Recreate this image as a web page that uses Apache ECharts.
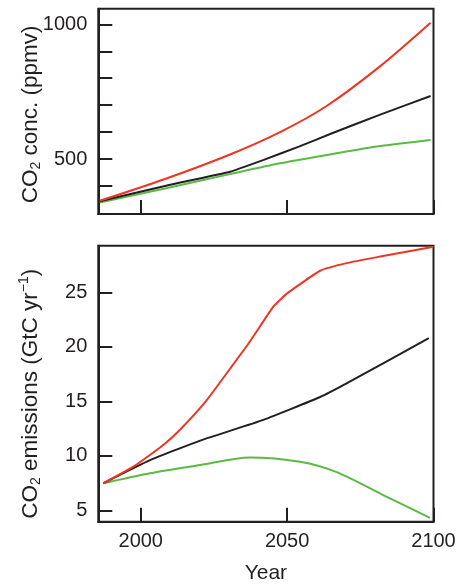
<!DOCTYPE html>
<html>
<head>
<meta charset="utf-8">
<script src="https://cdn.jsdelivr.net/npm/echarts@6/dist/echarts.min.js"></script>
<style>
html,body{margin:0;padding:0;background:#fff;}
#chart{width:461px;height:585px;}
</style>
</head>
<body>
<div id="chart"></div>
<script>
// ---- Data ----
// Top panel: CO2 concentration (ppmv)
const concRedYears   = [1986, 2008.3, 2030.5, 2047.6, 2063.5, 2081.6, 2099];
const concRed        = [345, 426, 517, 600, 697, 843, 1006];
const concBlackYears = [1986, 2009, 2030.5, 2042, 2054, 2064.7, 2081.8, 2099];
const concBlack      = [343, 402, 453, 497, 546, 593, 665, 734];
const concGreenYears = [1986, 2008.3, 2030.5, 2047.6, 2064.7, 2081.8, 2099];
const concGreen      = [339, 391, 444, 484, 517, 548, 571];

// Bottom panel: CO2 emissions (GtC/yr)
const emisRedYears   = [1987.2, 1997.5, 2007.7, 2013.4, 2022.5, 2030.5, 2037.3, 2045.3, 2049.9, 2061.3, 2070.3, 2081.8, 2100];
const emisRed        = [7.48, 9.0, 11.0, 12.4, 15.1, 18.0, 20.5, 23.7, 24.9, 27.0, 27.7, 28.3, 29.2];
const emisBlackYears = [1987.2, 2003.2, 2020.3, 2041.9, 2061.3, 2070.3, 2098.4];
const emisBlack      = [7.48, 9.6, 11.4, 13.3, 15.4, 16.65, 20.8];
const emisGreenYears = [1987.2, 2003.2, 2020.3, 2037.3, 2054.4, 2066.9, 2082.8, 2098.8];
const emisGreen      = [7.48, 8.4, 9.15, 9.85, 9.45, 8.5, 6.4, 4.3];

// Tick values
const yearTicks      = [2000, 2050, 2100];
const concTicks      = [400, 500, 600, 700, 800, 900, 1000];
const concLabels     = [500, 1000];
const emisTicks      = [5, 10, 15, 20, 25];

// ---- Styling ----
const INK = '#231f20';
const RED = '#ee3524';
const BLACK = '#231f20';
const GREEN = '#5cb945';
const FONT = '"Liberation Sans", Arial, Helvetica, sans-serif';

function pairs(xs, ys){ return xs.map((x,i)=>[x, ys[i]]); }
const plain = v => String(v);

const nameRich = {
  a: {fontSize: 22.5, fontFamily: FONT, color: INK, lineHeight: 26, verticalAlign: 'middle'},
  sub: {fontSize: 14, fontFamily: FONT, color: INK, lineHeight: 14, verticalAlign: 'bottom'},
  sup: {fontSize: 14, fontFamily: FONT, color: INK, lineHeight: 14, verticalAlign: 'top'}
};

const XMIN = 1985.5, XMAX = 2100;

function xAxisFor(gridIndex, showLabels){
  return {
    type: 'value', gridIndex, min: XMIN, max: XMAX,
    axisLine: {show: true, onZero: false, lineStyle: {color: INK, width: 2}},
    axisTick: {show: true, inside: true, length: 14, customValues: yearTicks, lineStyle: {color: INK, width: 2}},
    axisLabel: {show: showLabels, customValues: yearTicks, formatter: plain, margin: 10, fontSize: 20, fontFamily: FONT, color: INK},
    splitLine: {show: false},
    name: showLabels ? 'Year' : '',
    nameLocation: 'middle', nameGap: 41, nameMoveOverlap: false,
    nameTextStyle: {fontSize: 21, fontFamily: FONT, color: INK}
  };
}

function line(xi, yi, xs, ys, color, smooth){
  return {
    type: 'line', xAxisIndex: xi, yAxisIndex: yi,
    data: pairs(xs, ys), showSymbol: false, symbol: 'none',
    smooth: smooth, lineStyle: {color, width: 2}, itemStyle: {color},
    z: 1
  };
}

const chart = echarts.init(document.getElementById('chart'), null, {renderer: 'canvas'});
chart.setOption({
  animation: false,
  backgroundColor: '#ffffff',
  grid: [
    {left: 98.3, right: 27.5, top: 8.7, height: 205.3, show: true, borderColor: INK, borderWidth: 2, containLabel: false, outerBoundsMode: 'none'},
    {left: 98.3, right: 27.5, top: 245.7, height: 276, show: true, borderColor: INK, borderWidth: 2, containLabel: false, outerBoundsMode: 'none'}
  ],
  xAxis: [xAxisFor(0, false), xAxisFor(1, true)],
  yAxis: [
    {
      type: 'value', gridIndex: 0, min: 296, max: 1058,
      axisLine: {show: true, onZero: false, lineStyle: {color: INK, width: 2}},
      axisTick: {show: true, inside: true, length: 14, customValues: concTicks, lineStyle: {color: INK, width: 2}},
      axisLabel: {customValues: concLabels, formatter: plain, margin: 11, fontSize: 20, fontFamily: FONT, color: INK},
      splitLine: {show: false},
      name: '{a|CO}{sub|2}{a| conc. (ppmv)}',
      nameLocation: 'middle', nameGap: 55, nameMoveOverlap: false,
      nameTextStyle: {rich: nameRich, padding: [0, 6, 0, 0]}
    },
    {
      type: 'value', gridIndex: 1, min: 3.95, max: 29.3,
      axisLine: {show: true, onZero: false, lineStyle: {color: INK, width: 2}},
      axisTick: {show: true, inside: true, length: 14, customValues: emisTicks, lineStyle: {color: INK, width: 2}},
      axisLabel: {customValues: emisTicks, formatter: plain, margin: 11, fontSize: 20, fontFamily: FONT, color: INK},
      splitLine: {show: false},
      name: '{a|CO}{sub|2}{a| emissions (GtC yr}{sup|\u22121}{a|)}',
      nameLocation: 'middle', nameGap: 55, nameMoveOverlap: false,
      nameTextStyle: {rich: nameRich, padding: [0, 20, 0, 0]}
    }
  ],
  series: [
    line(0, 0, concGreenYears, concGreen, GREEN, 0.3),
    line(0, 0, concBlackYears, concBlack, BLACK, 0.1),
    line(0, 0, concRedYears, concRed, RED, 0.3),
    line(1, 1, emisGreenYears, emisGreen, GREEN, 0.3),
    line(1, 1, emisBlackYears, emisBlack, BLACK, 0.15),
    line(1, 1, emisRedYears, emisRed, RED, 0.15)
  ]
});
</script>
</body>
</html>
